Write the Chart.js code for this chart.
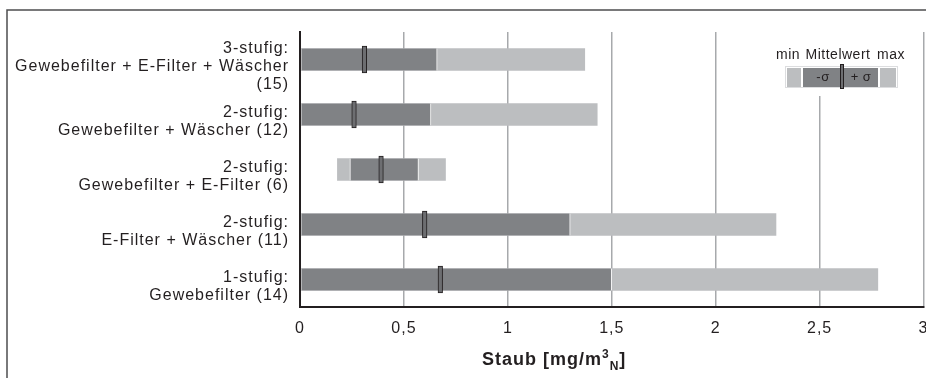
<!DOCTYPE html>
<html lang="de">
<head>
<meta charset="utf-8">
<title>Staub</title>
<script src="https://cdn.jsdelivr.net/npm/chart.js@4.4.1/dist/chart.umd.min.js"></script>
<style>
  html, body { margin: 0; padding: 0; background: #fff; overflow: hidden; }
  #wrap { width: 940px; height: 378px; }
</style>
</head>
<body>
<div id="wrap"><canvas id="staubChart" width="940" height="378"></canvas></div>
<script>
// Kategorien (Anzahl Anlagen in Klammern)
const categories = [
    ['3-stufig:', 'Gewebefilter + E-Filter + Wäscher', '(15)'],
    ['2-stufig:', 'Gewebefilter + Wäscher (12)'],
    ['2-stufig:', 'Gewebefilter + E-Filter (6)'],
    ['2-stufig:', 'E-Filter + Wäscher (11)'],
    ['1-stufig:', 'Gewebefilter (14)']
];
const minValues  = [0, 0, 0.18, 0, 0];
const maxValues  = [1.37, 1.43, 0.70, 2.29, 2.78];
const sigmaLow   = [0, 0, 0.24, 0, 0];
const sigmaHigh  = [0.66, 0.63, 0.57, 1.30, 1.50];
const meanValues = [0.31, 0.26, 0.39, 0.60, 0.675];
const xTickLabels = ['0', '0,5', '1', '1,5', '2', '2,5', '3'];

const LIGHT = '#bcbec0';
const DARK = '#808285';
const MARK = '#6d6e71';
const INK = '#231f20';
const FONT = "'Liberation Sans', Arial, sans-serif";

Chart.defaults.font.family = FONT;
Chart.defaults.color = INK;

// Rahmen, Achsentitel und Legende
const decoPlugin = {
    id: 'deco',
    beforeDraw(chart) {
        const ctx = chart.ctx;
        ctx.letterSpacing = '1px';
        ctx.save();
        ctx.fillStyle = '#fff';
        ctx.fillRect(0, 0, chart.width, chart.height);
        ctx.strokeStyle = '#4d4d4f';
        ctx.lineWidth = 1.5;
        ctx.beginPath();
        ctx.moveTo(7, chart.height);
        ctx.lineTo(7, 10);
        ctx.lineTo(chart.width, 10);
        ctx.stroke();
        ctx.restore();
    },
    afterDraw(chart) {
        const ctx = chart.ctx;
        ctx.save();
        ctx.fillStyle = INK;
        ctx.textBaseline = 'alphabetic';
        ctx.textAlign = 'left';

        // Achsentitel: Staub [mg/m³N]
        let x = 482;
        const base = 365;
        ctx.letterSpacing = '1px';
        ctx.font = 'bold 18px ' + FONT;
        ctx.fillText('Staub [mg/m', x, base);
        x += ctx.measureText('Staub [mg/m').width;
        ctx.font = 'bold 12px ' + FONT;
        ctx.fillText('3', x, base - 7);
        x += ctx.measureText('3').width;
        ctx.fillText('N', x, base + 5);
        x += ctx.measureText('N').width;
        ctx.font = 'bold 18px ' + FONT;
        ctx.fillText(']', x, base);

        // Legende
        ctx.fillStyle = '#fff';
        ctx.fillRect(776, 31, 130, 65);
        ctx.fillStyle = INK;
        ctx.letterSpacing = '0.5px';
        ctx.font = '14px ' + FONT;
        ctx.textAlign = 'center';
        ctx.fillText('min', 788, 59);
        ctx.fillText('Mittelwert', 838, 59);
        ctx.fillText('max', 891, 59);

        ctx.strokeStyle = '#dcdddf';
        ctx.lineWidth = 1;
        ctx.strokeRect(785.5, 66.5, 112, 21);
        ctx.fillStyle = LIGHT;
        ctx.fillRect(787, 68, 14, 19);
        ctx.fillRect(880, 68, 16, 19);
        ctx.fillStyle = DARK;
        ctx.fillRect(803, 68, 75, 19);
        ctx.fillStyle = MARK;
        ctx.fillRect(840, 64, 4, 25);
        ctx.strokeStyle = INK;
        ctx.strokeRect(840.5, 64.5, 3, 24);

        ctx.fillStyle = INK;
        ctx.font = '13px ' + FONT;
        ctx.fillText('-σ', 823, 81);
        ctx.fillText('+ σ', 861, 81);
        ctx.restore();
    }
};

new Chart(document.getElementById('staubChart'), {
    type: 'bar',
    data: {
        labels: categories,
        datasets: [
            {
                label: 'min - max',
                data: categories.map((c, i) => [minValues[i], maxValues[i]]),
                backgroundColor: LIGHT,
                borderWidth: 0,
                barThickness: 22,
                grouped: false,
                order: 3
            },
            {
                label: '-σ / +σ',
                data: categories.map((c, i) => [sigmaLow[i], sigmaHigh[i]]),
                backgroundColor: DARK,
                borderColor: '#ffffff',
                borderWidth: { left: 1, right: 1, top: 0, bottom: 0 },
                borderSkipped: false,
                barThickness: 22,
                grouped: false,
                order: 2
            },
            {
                label: 'Mittelwert',
                data: meanValues.map(m => [m - 0.011, m + 0.011]),
                backgroundColor: MARK,
                borderColor: INK,
                borderWidth: 1,
                borderSkipped: false,
                barThickness: 27,
                grouped: false,
                order: 1
            }
        ]
    },
    options: {
        indexAxis: 'y',
        responsive: false,
        animation: false,
        layout: { padding: { top: 32, right: 15, left: 0, bottom: 0 } },
        plugins: {
            legend: { display: false },
            tooltip: { enabled: false }
        },
        scales: {
            x: {
                type: 'linear',
                position: 'bottom',
                min: 0,
                max: 3,
                ticks: {
                    stepSize: 0.5,
                    autoSkip: false,
                    maxRotation: 0,
                    padding: 12,
                    color: INK,
                    font: { size: 16 },
                    callback: (value, index) => xTickLabels[index]
                },
                grid: { color: '#a7a9ac', lineWidth: 1.5, drawTicks: false },
                border: { color: INK, width: 2, z: 1 },
                afterFit: scale => { scale.height = 71; }
            },
            y: {
                ticks: {
                    autoSkip: false,
                    padding: 11,
                    labelOffset: 7,
                    color: INK,
                    font: { size: 16, lineHeight: 1.15 }
                },
                grid: { display: false, drawTicks: false },
                border: { color: INK, width: 2, z: 1 },
                afterFit: scale => { scale.width = 300; }
            }
        }
    },
    plugins: [decoPlugin]
});
</script>
</body>
</html>
